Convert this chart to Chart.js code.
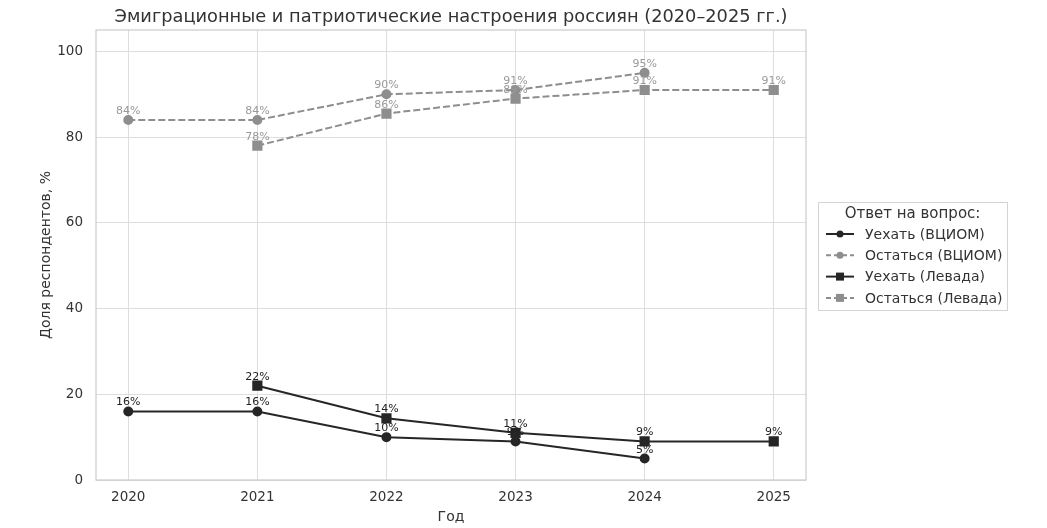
<!DOCTYPE html>
<html>
<head>
<meta charset="utf-8">
<script src="https://cdn.jsdelivr.net/npm/chart.js@4"></script>
<style>
  html, body { margin: 0; padding: 0; background: #fff; }
</style>
</head>
<body>
<canvas id="chart" width="1047" height="528"></canvas>
<script>
// data
const years = [2020, 2021, 2022, 2023, 2024, 2025];
const yTicks = [0, 20, 40, 60, 80, 100];
const leaveVciom = [16, 16, 10, 9, 5, null];
const stayVciom = [84, 84, 90, 91, 95, null];
const leaveLevada = [null, 22, 14.4, 11, 9, 9];
const stayLevada = [null, 78, 85.5, 89, 91, 91];

const DARK = '#262626';
const GREY = '#8e8e8e';
const FONT = '"DejaVu Sans", sans-serif';

function pts(vals) {
  return years.map((y, i) => ({ x: y, y: vals[i] })).filter(p => p.y !== null);
}

const series = [
  { label: 'Уехать (ВЦИОМ)', vals: leaveVciom, color: DARK, dash: false, shape: 'circle' },
  { label: 'Остаться (ВЦИОМ)', vals: stayVciom, color: GREY, dash: true, shape: 'circle' },
  { label: 'Уехать (Левада)', vals: leaveLevada, color: DARK, dash: false, shape: 'rect' },
  { label: 'Остаться (Левада)', vals: stayLevada, color: GREY, dash: true, shape: 'rect' }
];

const extras = {
  id: 'extras',
  beforeDraw(chart) {
    const { ctx, chartArea: a } = chart;
    ctx.save();
    ctx.fillStyle = '#333';
    ctx.font = '17.8px ' + FONT;
    ctx.textAlign = 'center';
    ctx.textBaseline = 'alphabetic';
    ctx.fillText('Эмиграционные и патриотические настроения россиян (2020–2025 гг.)', (a.left + a.right) / 2, a.top - 8);
    ctx.restore();
  },
  afterDatasetsDraw(chart) {
    const { ctx, chartArea: a } = chart;
    ctx.save();
    // frame around the plot
    ctx.strokeStyle = '#cccccc';
    ctx.lineWidth = 1.2;
    ctx.strokeRect(a.left, a.top, a.right - a.left, a.bottom - a.top);

    // value labels
    ctx.font = '11px ' + FONT;
    ctx.textAlign = 'center';
    ctx.textBaseline = 'alphabetic';
    chart.data.datasets.forEach((ds, i) => {
      const meta = chart.getDatasetMeta(i);
      ctx.fillStyle = ds.borderColor === GREY ? '#999' : '#222';
      meta.data.forEach((el, j) => {
        ctx.fillText(Math.round(ds.data[j].y) + '%', el.x, el.y - 6);
      });
    });

    // legend box
    const bx = a.right + 12, bw = 189, bh = 108;
    const by = (a.top + a.bottom) / 2 - bh / 2 + 1;
    ctx.fillStyle = '#fff';
    ctx.fillRect(bx, by, bw, bh);
    ctx.strokeStyle = '#d4d4d4';
    ctx.lineWidth = 1;
    ctx.strokeRect(bx + 0.5, by + 0.5, bw, bh);
    ctx.fillStyle = '#333';
    ctx.font = '15px ' + FONT;
    ctx.textAlign = 'center';
    ctx.textBaseline = 'middle';
    ctx.fillText('Ответ на вопрос:', bx + bw / 2, by + 12);
    ctx.font = '14px ' + FONT;
    ctx.textAlign = 'left';
    chart.data.datasets.forEach((ds, i) => {
      const s = series[i];
      const y = by + 32 + i * 21.3;
      ctx.strokeStyle = s.color;
      ctx.fillStyle = s.color;
      ctx.lineWidth = 2;
      ctx.setLineDash(s.dash ? [5, 3] : []);
      ctx.beginPath(); ctx.moveTo(bx + 8, y); ctx.lineTo(bx + 36, y); ctx.stroke();
      ctx.setLineDash([]);
      if (s.shape === 'circle') { ctx.beginPath(); ctx.arc(bx + 22, y, 3.5, 0, Math.PI * 2); ctx.fill(); }
      else ctx.fillRect(bx + 18, y - 4, 8, 8);
      ctx.fillStyle = '#333';
      ctx.fillText(ds.label, bx + 47, y + 1);
    });
    ctx.restore();
  }
};

new Chart(document.getElementById('chart'), {
  type: 'line',
  data: {
    datasets: series.map(s => ({
      label: s.label,
      data: pts(s.vals),
      borderColor: s.color,
      backgroundColor: s.color,
      borderWidth: 2,
      borderDash: s.dash ? [7, 3] : [],
      pointStyle: s.shape,
      pointRadius: s.shape === 'rect' ? 5.8 : 4,
      pointHoverRadius: 5,
      tension: 0
    }))
  },
  options: {
    responsive: false,
    animation: false,
    layout: { padding: { top: 30, left: 0, right: 241, bottom: 0 } },
    scales: {
      x: {
        type: 'linear',
        min: 2019.75,
        max: 2025.25,
        afterBuildTicks: ax => { ax.ticks = years.map(v => ({ value: v })); },
        afterFit: ax => { ax.height = 48; },
        grid: { color: '#dedede', drawTicks: false },
        border: { display: false },
        ticks: { color: '#333', font: { family: FONT, size: 13.5 }, padding: 9, callback: v => String(v) },
        title: { display: true, text: 'Год', color: '#333', font: { family: FONT, size: 14 }, padding: { top: 0, bottom: 2 } }
      },
      y: {
        min: 0,
        max: 105,
        afterBuildTicks: ax => { ax.ticks = yTicks.map(v => ({ value: v })); },
        afterFit: ax => { ax.width = 96; },
        grid: { color: '#dedede', drawTicks: false },
        border: { display: false },
        ticks: { color: '#333', font: { family: FONT, size: 13.5 }, padding: 13 },
        title: { display: true, text: 'Доля респондентов, %', color: '#333', font: { family: FONT, size: 14 }, padding: { top: 38, bottom: 0 } }
      }
    },
    plugins: {
      title: { display: false },
      legend: { display: false },
      tooltip: { enabled: false }
    }
  },
  plugins: [extras]
});
</script>
</body>
</html>
